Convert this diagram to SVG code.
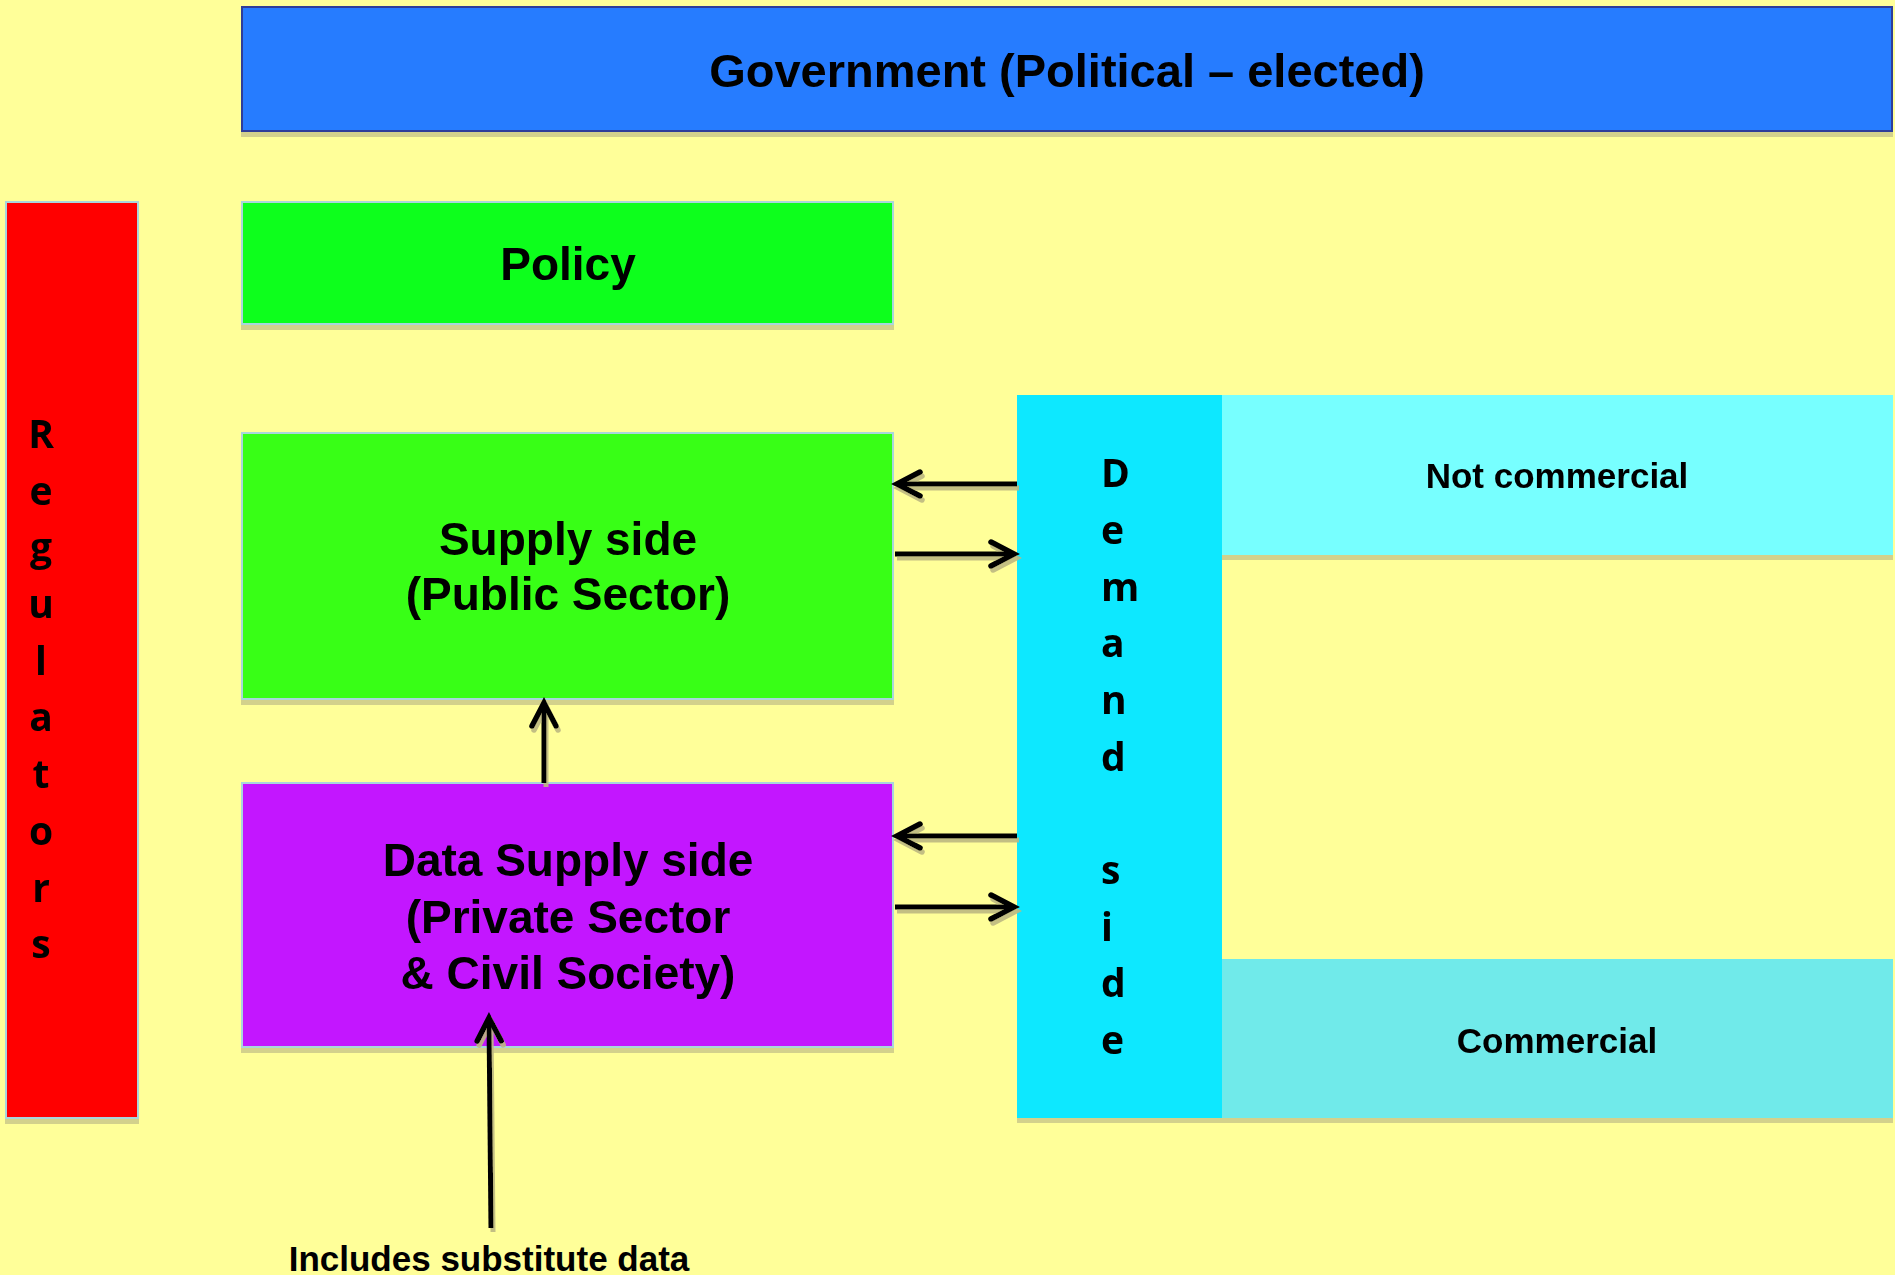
<svg xmlns="http://www.w3.org/2000/svg" width="1895" height="1275" viewBox="0 0 1895 1275">
<defs>
<style>
.lbl{font-family:"Liberation Sans",Arial,sans-serif;font-weight:bold;fill:#000;text-anchor:middle}
.vert{font-family:"Open Sans","Noto Sans",sans-serif;font-weight:bold;fill:#000;font-size:39px}
.box{stroke:#A9D6DC;stroke-width:2}
.conn{stroke:#000;stroke-width:5;fill:none}
</style>
<filter id="bsh" x="-5%" y="-5%" width="110%" height="120%">
<feDropShadow dx="0" dy="5" stdDeviation="0" flood-color="#D3D18C" flood-opacity="1"/>
</filter>
<filter id="ash" x="-20%" y="-20%" width="140%" height="160%">
<feDropShadow dx="2" dy="4" stdDeviation="0.6" flood-color="#BDB880" flood-opacity="0.9"/>
</filter>
<marker id="ah" markerUnits="userSpaceOnUse" markerWidth="40" markerHeight="40" viewBox="-30 -20 40 40" refX="0" refY="0" orient="auto">
<path d="M -23 -12 L 0 0 L -23 12" fill="none" stroke="#000" stroke-width="5.5" stroke-linecap="round" stroke-linejoin="miter"/>
</marker>
</defs>
<rect x="0" y="0" width="1895" height="1275" fill="#FFFF99"/>

<g id="government" filter="url(#bsh)">
<rect x="242" y="7" width="1650" height="124" fill="#277BFF" stroke="#2E3E9A" stroke-width="2"/>
<text class="lbl" x="1067" y="87" font-size="47">Government (Political – elected)</text>
</g>

<g id="regulators" filter="url(#bsh)">
<rect class="box" x="6" y="202" width="132" height="916" fill="#FF0000"/>
<g class="vert" text-anchor="middle">
<text x="41" y="448">R</text>
<text x="41" y="505">e</text>
<text x="41" y="561">g</text>
<text x="41" y="618">u</text>
<text x="41" y="675">l</text>
<text x="41" y="731">a</text>
<text x="41" y="788">t</text>
<text x="41" y="845">o</text>
<text x="41" y="902">r</text>
<text x="41" y="958">s</text>
</g>
</g>

<g id="policy" filter="url(#bsh)">
<rect class="box" x="242" y="202" width="651" height="122" fill="#0AFF1E"/>
<text class="lbl" x="568" y="280" font-size="46">Policy</text>
</g>

<g id="supply" filter="url(#bsh)">
<rect class="box" x="242" y="433" width="651" height="266" fill="#38FF14"/>
<text class="lbl" x="568" y="555" font-size="46">Supply side</text>
<text class="lbl" x="568" y="610" font-size="46">(Public Sector)</text>
</g>

<g id="datasupply" filter="url(#bsh)">
<rect class="box" x="242" y="783" width="651" height="264" fill="#C318FF"/>
<text class="lbl" x="568" y="876" font-size="46">Data Supply side</text>
<text class="lbl" x="568" y="933" font-size="46">(Private Sector</text>
<text class="lbl" x="568" y="989" font-size="46">&amp; Civil Society)</text>
</g>

<g id="demand" filter="url(#bsh)">
<rect x="1017" y="395" width="205" height="723" fill="#07E8FF"/>
<g class="vert">
<text x="1101" y="487">D</text>
<text x="1101" y="544">e</text>
<text x="1101" y="601">m</text>
<text x="1101" y="657">a</text>
<text x="1101" y="714">n</text>
<text x="1101" y="771">d</text>
<text x="1101" y="884">s</text>
<text x="1101" y="941">i</text>
<text x="1101" y="997">d</text>
<text x="1101" y="1054">e</text>
</g>
</g>

<g id="notcommercial" filter="url(#bsh)">
<rect x="1222" y="395" width="671" height="160" fill="#77FFFF"/>
<text class="lbl" x="1557" y="488" font-size="35">Not commercial</text>
</g>

<g id="commercial" filter="url(#bsh)">
<rect x="1222" y="959" width="671" height="159" fill="#70EAEA"/>
<text class="lbl" x="1557" y="1053" font-size="35">Commercial</text>
</g>

<g id="label-substitute">
<text class="lbl" x="489" y="1271" font-size="35">Includes substitute data</text>
</g>

<g id="connectors" filter="url(#ash)">
<line class="conn" x1="1017" y1="484" x2="897" y2="484" marker-end="url(#ah)"/>
<line class="conn" x1="895" y1="554" x2="1014" y2="554" marker-end="url(#ah)"/>
<line class="conn" x1="1017" y1="836" x2="897" y2="836" marker-end="url(#ah)"/>
<line class="conn" x1="895" y1="907" x2="1014" y2="907" marker-end="url(#ah)"/>
<line class="conn" x1="544" y1="783" x2="544" y2="703" marker-end="url(#ah)"/>
<line class="conn" x1="491" y1="1228" x2="489" y2="1018" marker-end="url(#ah)"/>
</g>
</svg>
